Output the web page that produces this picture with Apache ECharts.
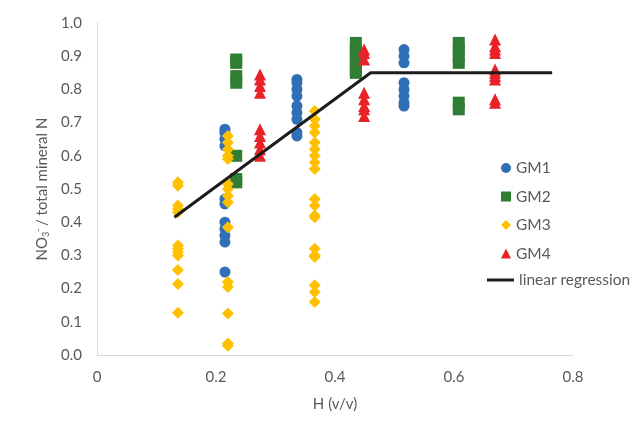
<!DOCTYPE html>
<html>
<head>
<meta charset="utf-8">
<script src="https://cdn.jsdelivr.net/npm/echarts@6/dist/echarts.min.js"></script>
<style>
  html, body { margin: 0; padding: 0; background: #fff; }
  #main { width: 635px; height: 427px; }
</style>
</head>
<body>
<div id="main"></div>
<script>
// data: [H, NO3-/total mineral N]
const gm1 = [
  [0.215, 0.68], [0.215, 0.67], [0.215, 0.65], [0.215, 0.63],
  [0.215, 0.47], [0.215, 0.455], [0.215, 0.40], [0.215, 0.38], [0.215, 0.36], [0.215, 0.34], [0.215, 0.25],
  [0.336, 0.83], [0.336, 0.82], [0.336, 0.80], [0.336, 0.78], [0.336, 0.75], [0.336, 0.73], [0.336, 0.71], [0.336, 0.67], [0.336, 0.66],
  [0.516, 0.92], [0.516, 0.90], [0.516, 0.88], [0.516, 0.82], [0.516, 0.80], [0.516, 0.78], [0.516, 0.76], [0.516, 0.75]
];
const gm2 = [
  [0.234, 0.89], [0.234, 0.88], [0.234, 0.84], [0.234, 0.82], [0.234, 0.60], [0.234, 0.53], [0.234, 0.52],
  [0.435, 0.94], [0.435, 0.92], [0.435, 0.90], [0.435, 0.88], [0.435, 0.86], [0.435, 0.85],
  [0.608, 0.94], [0.608, 0.92], [0.608, 0.90], [0.608, 0.88], [0.608, 0.76], [0.608, 0.74]
];
const gm3 = [
  [0.136, 0.52], [0.136, 0.51], [0.136, 0.45], [0.136, 0.44], [0.136, 0.43],
  [0.136, 0.33], [0.136, 0.32], [0.136, 0.31], [0.136, 0.30], [0.136, 0.256], [0.136, 0.214], [0.136, 0.127],
  [0.22, 0.66], [0.22, 0.64], [0.22, 0.62], [0.22, 0.60], [0.22, 0.59],
  [0.22, 0.515], [0.22, 0.50], [0.22, 0.48], [0.22, 0.46], [0.22, 0.385],
  [0.22, 0.22], [0.22, 0.205], [0.22, 0.125], [0.22, 0.035], [0.22, 0.028],
  [0.366, 0.735], [0.366, 0.71], [0.366, 0.69], [0.366, 0.67], [0.366, 0.64], [0.366, 0.62], [0.366, 0.60], [0.366, 0.58], [0.366, 0.56],
  [0.366, 0.47], [0.366, 0.45], [0.366, 0.42], [0.366, 0.415],
  [0.366, 0.32], [0.366, 0.30], [0.366, 0.295], [0.366, 0.21], [0.366, 0.19], [0.366, 0.16]
];
const gm4 = [
  [0.274, 0.845], [0.274, 0.83], [0.274, 0.81], [0.274, 0.79],
  [0.274, 0.68], [0.274, 0.66], [0.274, 0.64], [0.274, 0.62], [0.274, 0.60],
  [0.449, 0.92], [0.449, 0.91], [0.449, 0.89], [0.449, 0.79], [0.449, 0.77], [0.449, 0.75], [0.449, 0.74], [0.449, 0.72],
  [0.669, 0.95], [0.669, 0.93], [0.669, 0.92], [0.669, 0.91], [0.669, 0.86], [0.669, 0.85], [0.669, 0.84], [0.669, 0.83], [0.669, 0.77], [0.669, 0.76]
];
const regression = [[0.13, 0.415], [0.46, 0.85], [0.765, 0.85]];

const font = 'Lato';
const grey = '#595959';

const chart = echarts.init(document.getElementById('main'));
chart.setOption({
  animation: false,
  textStyle: { fontFamily: font },
  grid: { left: 97, right: 62, top: 23, bottom: 72 },
  legend: [
    {
      data: ['GM1', 'GM2', 'GM3', 'GM4'],
      orient: 'vertical',
      left: 496,
      top: 155,
      itemWidth: 10,
      itemHeight: 10,
      itemGap: 12.5,
      textStyle: { color: grey, fontSize: 15.5, fontFamily: font }
    },
    {
      data: [{ name: 'linear regression', icon: 'rect' }],
      orient: 'vertical',
      left: 482,
      top: 267,
      itemWidth: 27,
      itemHeight: 3,
      textStyle: { color: grey, fontSize: 15.5, fontFamily: font }
    }
  ],
  xAxis: {
    type: 'value',
    min: 0,
    max: 0.8,
    interval: 0.2,
    name: 'H (v/v)',
    nameLocation: 'middle',
    nameGap: 42,
    nameTextStyle: { color: grey, fontSize: 15, fontFamily: font },
    axisLine: { lineStyle: { color: '#d9d9d9', width: 1 } },
    axisTick: { show: false },
    splitLine: { show: false },
    axisLabel: { color: grey, fontSize: 15, margin: 15 }
  },
  yAxis: {
    type: 'value',
    min: 0,
    max: 1,
    interval: 0.1,
    name: '{a|NO}{s|3}{p|-}{a|/ total mineral N}',
    nameLocation: 'middle',
    nameGap: 44,
    nameTextStyle: {
      color: grey,
      fontSize: 15,
      fontFamily: font,
      rich: {
        a: { color: grey, fontSize: 15, fontFamily: font },
        s: { color: grey, fontSize: 9, fontFamily: font, verticalAlign: 'bottom', padding: [7, 0, 0, 0] },
        p: { color: grey, fontSize: 10, fontFamily: font, verticalAlign: 'top', padding: [0, 2, 7, 0] }
      }
    },
    axisLine: { show: true, lineStyle: { color: '#d9d9d9', width: 1 } },
    axisTick: { show: false },
    splitLine: { show: false },
    axisLabel: { color: grey, fontSize: 15, margin: 15, formatter: v => v.toFixed(1) }
  },
  series: [
    {
      name: 'GM1', type: 'scatter', data: gm1,
      symbol: 'circle', symbolSize: 11,
      itemStyle: { color: '#2e6fb7', opacity: 1 }
    },
    {
      name: 'GM2', type: 'scatter', data: gm2,
      symbol: 'rect', symbolSize: 12,
      itemStyle: { color: '#2f7e34', opacity: 1 }
    },
    {
      name: 'GM3', type: 'scatter', data: gm3,
      symbol: 'diamond', symbolSize: 12,
      itemStyle: { color: '#ffc000', opacity: 1 }
    },
    {
      name: 'GM4', type: 'scatter', data: gm4,
      symbol: 'triangle', symbolSize: 12,
      itemStyle: { color: '#e82228', opacity: 1 }
    },
    {
      name: 'linear regression', type: 'line', data: regression,
      symbol: 'none', showSymbol: false,
      lineStyle: { color: '#1c1c1c', width: 3 },
      itemStyle: { color: '#1c1c1c' },
      z: 3
    }
  ]
});
</script>
</body>
</html>
